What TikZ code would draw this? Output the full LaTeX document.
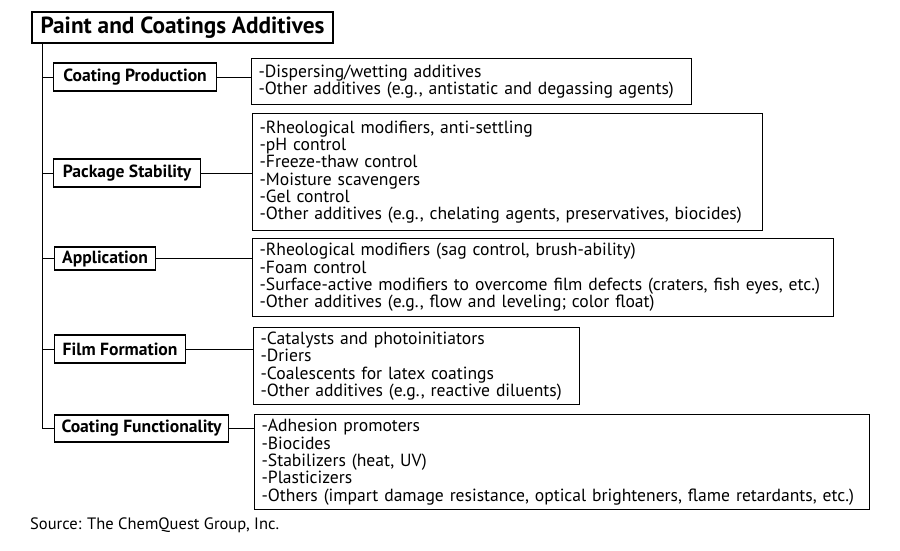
\documentclass[tikz,border=0pt]{standalone}
\usepackage{fontspec}
\setmainfont{PT Sans}
\newcommand\lineitem[1]{\makebox[0pt][l]{#1}}
\begin{document}
\begin{tikzpicture}[x=1pt,y=-1pt,
  box/.style={draw, line width=1.2pt, rectangle, inner sep=0pt},
  cat/.style={box, anchor=west, font=\bfseries\fontsize{17.6}{20}\selectfont},
  list/.style={box, anchor=north west, align=left, inner xsep=7pt, inner ysep=0pt, font=\fontsize{17.6}{17.3}\selectfont},
  link/.style={line width=0.9pt}]
\path[use as bounding box] (0,0) rectangle (900,550);
\node[box, minimum width=301pt, minimum height=31pt, font=\bfseries\fontsize{23.3}{26}\selectfont] (title) at (182.5,27.5) {Paint and Coatings Additives};
\node[cat, minimum width=163pt, minimum height=28pt] (cp) at (53,77) {Coating Production};
\node[cat, minimum width=147pt, minimum height=28pt] (ps) at (53,173) {Package Stability};
\node[cat, minimum width=101pt, minimum height=23pt] (app) at (54,258.5) {Application};
\node[cat, minimum width=131pt, minimum height=28pt] (ff) at (54,349) {Film Formation};
\node[cat, minimum width=174pt, minimum height=27pt] (cf) at (54,428.5) {Coating Functionality};
\node[list, text width=426pt, minimum height=46pt] (cpl) at (251,58) {\lineitem{-Dispersing/wetting additives}\\\lineitem{-Other additives (e.g., antistatic and degassing agents)}};
\node[list, text width=496pt, minimum height=117pt] (psl) at (252,113) {\lineitem{-Rheological modifiers, anti-settling}\\\lineitem{-pH control}\\\lineitem{-Freeze-thaw control}\\\lineitem{-Moisture scavengers}\\\lineitem{-Gel control}\\\lineitem{-Other additives (e.g., chelating agents, preservatives, biocides)}};
\node[list, text width=567pt, minimum height=78pt] (appl) at (252,238) {\lineitem{-Rheological modifiers (sag control, brush-ability)}\\\lineitem{-Foam control}\\\lineitem{-Surface-active modifiers to overcome film defects (craters, fish eyes, etc.)}\\\lineitem{-Other additives (e.g., flow and leveling; color float)}};
\node[list, text width=312pt, minimum height=77pt] (ffl) at (253,327) {\lineitem{-Catalysts and photoinitiators}\\\lineitem{-Driers}\\\lineitem{-Coalescents for latex coatings}\\\lineitem{-Other additives (e.g., reactive diluents)}};
\node[list, text width=601pt, minimum height=95pt] (cfl) at (254,414) {\lineitem{-Adhesion promoters}\\\lineitem{-Biocides}\\\lineitem{-Stabilizers (heat, UV)}\\\lineitem{-Plasticizers}\\\lineitem{-Others (impart damage resistance, optical brighteners, flame retardants, etc.)}};
\node[anchor=west, inner sep=0pt, font=\fontsize{16.5}{19}\selectfont] (src) at (30,525) {Source: The ChemQuest Group, Inc.};
\coordinate (trunk) at ([xshift=11pt]title.south west);
\draw[link] (trunk) |- (cf.west);
\foreach \n in {cp,ps,app,ff} \draw[link] (\n.west -| trunk) -- (\n.west);
\foreach \n/\m in {cp/cpl,ps/psl,app/appl,ff/ffl,cf/cfl} \draw[link] (\n.east) -- (\n.east -| \m.west);
\end{tikzpicture}
\end{document}
